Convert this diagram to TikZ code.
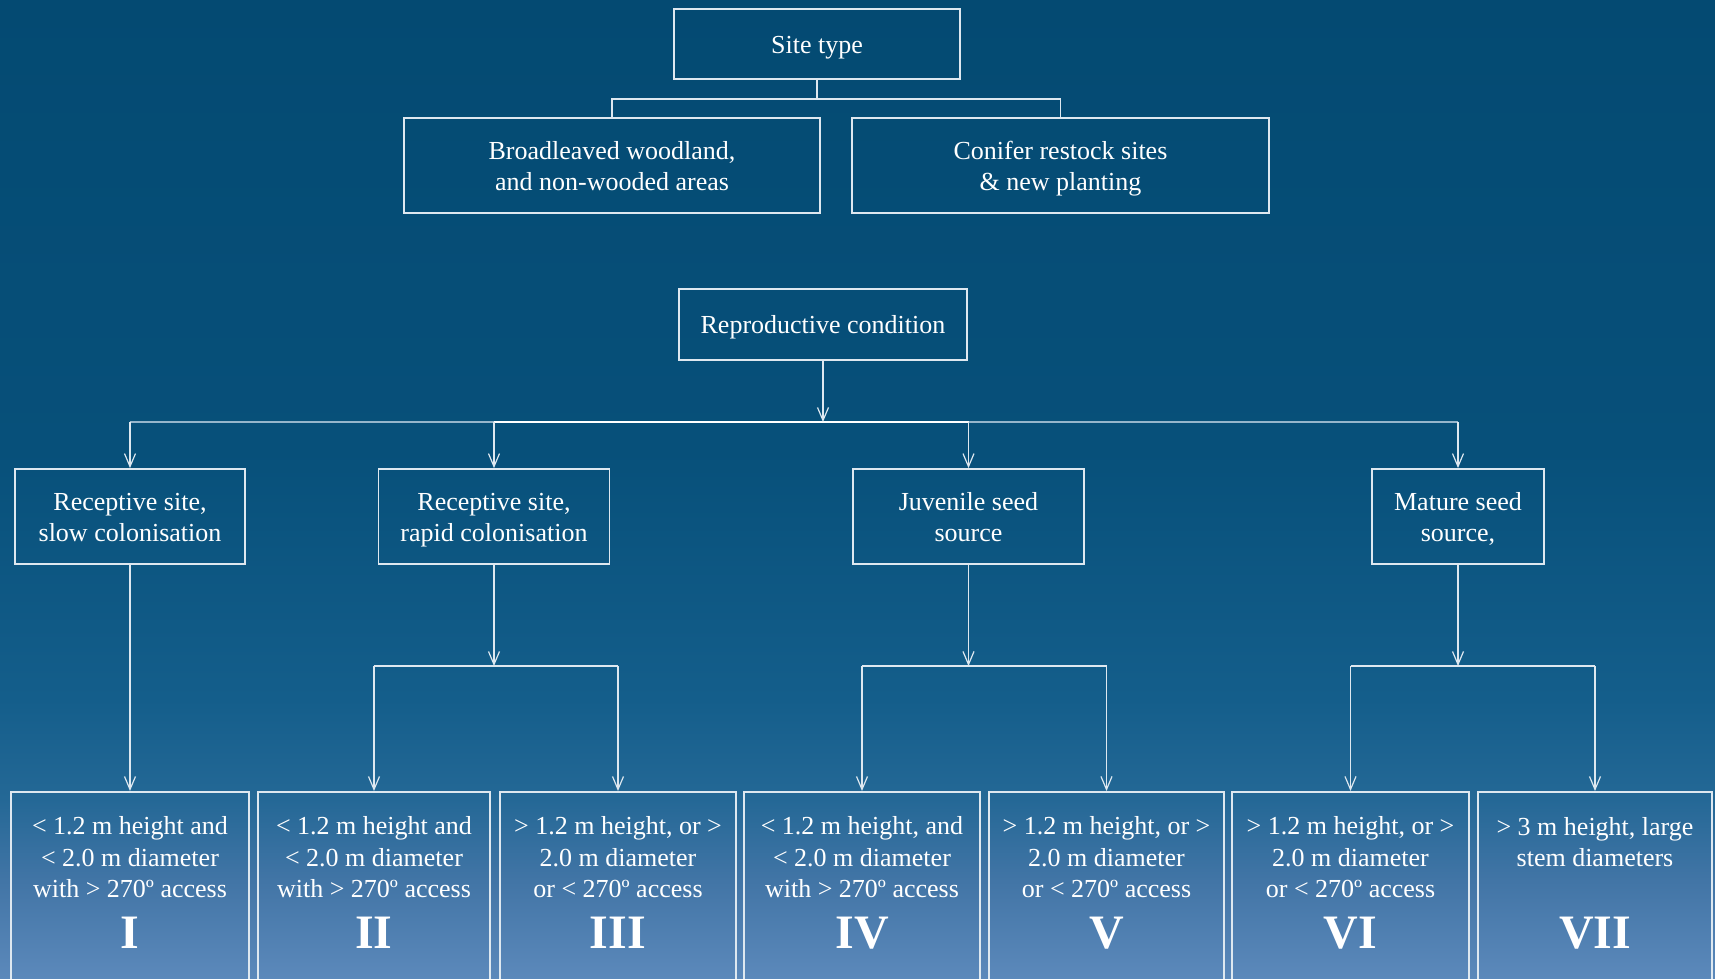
\documentclass[tikz,border=0pt]{standalone}
\usepackage{fontspec}
\setmainfont{Liberation Serif}
\usetikzlibrary{arrows.meta}
\definecolor{bgA}{RGB}{92,137,187}
\definecolor{bgB}{RGB}{66,117,166}
\definecolor{bgC}{RGB}{36,104,150}
\definecolor{bgD}{RGB}{20,94,139}
\definecolor{bgE}{RGB}{7,80,122}
\definecolor{bgF}{RGB}{4,74,114}
\definecolor{lineC}{RGB}{222,232,240}
\definecolor{busC}{RGB}{150,182,204}
\newcommand\topstrut{\rule{0pt}{13.9pt}}
\pgfdeclareverticalshading{bgshade}{100bp}{color(0bp)=(bgA); color(25bp)=(bgA); color(30bp)=(bgB); color(34.2bp)=(bgC); color(39.3bp)=(bgD); color(52bp)=(bgE); color(75bp)=(bgF); color(100bp)=(bgF)}
\begin{document}
\begin{tikzpicture}[x=0.5pt,y=-0.5pt,
  box/.style={draw=lineC, line width=0.9pt, align=center, inner sep=0pt, text=white, font=\fontsize{13}{15.5}\selectfont},
  lowbox/.style={draw=lineC, line width=0.9pt, inner sep=0pt, anchor=north, minimum height=115pt},
  lowtext/.style={align=center, inner sep=0pt, text=white, font=\fontsize{13}{15.75}\selectfont},
  numeral/.style={inner sep=0pt, text=white, font=\fontsize{24}{29}\selectfont\bfseries},
  conn/.style={draw=lineC, line width=0.6pt},
  arr/.style={draw=lineC, line width=0.6pt, -{Straight Barb[length=6.5pt,width=5.5pt]}},
  busout/.style={draw=busC, line width=1pt},
  busin/.style={draw=white, line width=1.2pt}]
\shade[shading=bgshade] (0,0) rectangle (1715,979);
\useasboundingbox (0,0) rectangle (1715,979);
\clip (0,0) rectangle (1715,979);

% top part
\node[box, minimum width=143pt, minimum height=35pt] (site) at (817,44) {\topstrut Site type\strut};
\node[box, minimum width=208pt, minimum height=47.5pt] (broad) at (612,165.5) {\topstrut Broadleaved woodland,\\and non-wooded areas\strut};
\node[box, minimum width=208.5pt, minimum height=47.5pt] (conifer) at (1060.5,165.5) {\topstrut Conifer restock sites\\\& new planting\strut};
\coordinate (j1) at (817,99);
\draw[conn] (site.south) -- (j1);
\draw[conn] (broad.north) |- (j1) -| (conifer.north);

% reproductive condition
\node[box, minimum width=144pt, minimum height=35.5pt] (repro) at (823,324.5) {\topstrut Reproductive condition\strut};
\node[box, minimum width=115pt, minimum height=47.5pt] (slow) at (130,516.5) {\topstrut Receptive site,\\slow colonisation\strut};
\node[box, minimum width=115.5pt, minimum height=47.5pt] (rapid) at (494,516.5) {\topstrut Receptive site,\\rapid colonisation\strut};
\node[box, minimum width=115.5pt, minimum height=47.5pt] (juv) at (968.5,516.5) {\topstrut Juvenile seed\\source\strut};
\node[box, minimum width=86pt, minimum height=47.5pt] (mature) at (1458,516.5) {\topstrut Mature seed\\source,\strut};

\coordinate (bus) at (823,422);
\draw[busout] (slow.north |- bus) -- (rapid.north |- bus);
\draw[busout] (juv.north |- bus) -- (mature.north |- bus);
\draw[busin] (rapid.north |- bus) -- (juv.north |- bus);
\draw[arr] (repro.south) -- (bus);
\draw[arr] (slow.north |- bus) -- (slow.north);
\draw[arr] (rapid.north |- bus) -- (rapid.north);
\draw[arr] (juv.north |- bus) -- (juv.north);
\draw[arr] (mature.north |- bus) -- (mature.north);

% bottom boxes
\node[lowbox, minimum width=118.75pt] (b1) at (130,791) {};
\node[lowbox, minimum width=116.25pt] (b2) at (374,791) {};
\node[lowbox, minimum width=118pt] (b3) at (618,791) {};
\node[lowbox, minimum width=118.25pt] (b4) at (862,791) {};
\node[lowbox, minimum width=117.5pt] (b5) at (1106.5,791) {};
\node[lowbox, minimum width=118.25pt] (b6) at (1350.5,791) {};
\node[lowbox, minimum width=117pt] (b7) at (1595,791) {};

\node[lowtext] (t1) at (130,860) {\strut< 1.2 m height and\\< 2.0 m diameter\\with > 270º access\strut};
\node[lowtext] (t2) at (374,860) {\strut< 1.2 m height and\\< 2.0 m diameter\\with > 270º access\strut};
\node[lowtext] (t3) at (618,860) {\strut> 1.2 m height, or >\\2.0 m diameter\\or < 270º access\strut};
\node[lowtext] (t4) at (862,860) {\strut< 1.2 m height, and\\< 2.0 m diameter\\with > 270º access\strut};
\node[lowtext] (t5) at (1106.5,860) {\strut> 1.2 m height, or >\\2.0 m diameter\\or < 270º access\strut};
\node[lowtext] (t6) at (1350.5,860) {\strut> 1.2 m height, or >\\2.0 m diameter\\or < 270º access\strut};
\node[lowtext] (t7) at (1595,844.5) {\strut> 3 m height, large\\stem diameters\strut};

\node[numeral] (n1) at (130,933) {I};
\node[numeral] (n2) at (374,933) {II};
\node[numeral] (n3) at (618,933) {III};
\node[numeral] (n4) at (862,933) {IV};
\node[numeral] (n5) at (1106.5,933) {V};
\node[numeral] (n6) at (1350.5,933) {VI};
\node[numeral] (n7) at (1595,933) {VII};

% lower connectors
\draw[arr] (slow.south) -- (b1.north);
\coordinate (m2) at (494,666);
\coordinate (m3) at (968.5,666);
\coordinate (m4) at (1458,666);
\draw[arr] (rapid.south) -- (m2);
\draw[arr] (juv.south) -- (m3);
\draw[arr] (mature.south) -- (m4);
\draw[conn] (b2.north |- m2) -- (b3.north |- m2);
\draw[conn] (b4.north |- m3) -- (b5.north |- m3);
\draw[conn] (b6.north |- m4) -- (b7.north |- m4);
\draw[arr] (b2.north |- m2) -- (b2.north);
\draw[arr] (b3.north |- m2) -- (b3.north);
\draw[arr] (b4.north |- m3) -- (b4.north);
\draw[arr] (b5.north |- m3) -- (b5.north);
\draw[arr] (b6.north |- m4) -- (b6.north);
\draw[arr] (b7.north |- m4) -- (b7.north);
\end{tikzpicture}
\end{document}
